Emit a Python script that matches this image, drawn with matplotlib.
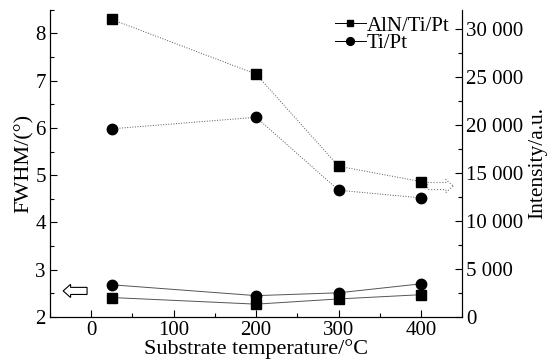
import matplotlib.pyplot as plt
from matplotlib.ticker import MultipleLocator, FuncFormatter
from matplotlib.patches import FancyArrow

plt.rcParams['font.family'] = ['Liberation Serif', 'DejaVu Serif']

# --- data ---
temp = [25, 200, 300, 400]
fwhm_aln = [2.41, 2.27, 2.38, 2.47]
fwhm_tipt = [2.68, 2.45, 2.51, 2.70]
int_aln = [31000, 25300, 15700, 14100]
int_tipt = [19600, 20800, 13200, 12400]

fig = plt.figure(figsize=(5.49, 3.63), dpi=100)
ax = fig.add_axes([0.091, 0.127, 0.751, 0.846])
ax2 = ax.twinx()

line_kw = dict(color='#555555', lw=0.7, mfc='black', mec='black')
ax.plot(temp, fwhm_aln, '-s', ms=6.5, label='AlN/Ti/Pt', **line_kw)
ax.plot(temp, fwhm_tipt, '-o', ms=7.5, label='Ti/Pt', **line_kw)
ax2.plot(temp, int_aln, ':s', ms=6.5, **line_kw)
ax2.plot(temp, int_tipt, ':o', ms=7.5, **line_kw)

ax.set_xlim(-50, 450)
ax.set_ylim(2, 8.5)
ax2.set_ylim(0, 32000)

ax.xaxis.set_major_locator(MultipleLocator(100))
ax.xaxis.set_minor_locator(MultipleLocator(50))
ax.yaxis.set_major_locator(MultipleLocator(1))
ax.yaxis.set_minor_locator(MultipleLocator(0.5))
ax2.yaxis.set_major_locator(MultipleLocator(5000))
ax2.yaxis.set_minor_locator(MultipleLocator(2500))
ax2.yaxis.set_major_formatter(FuncFormatter(lambda v, p: f"{int(v):,}".replace(',', ' ')))

for a in (ax, ax2):
    a.spines['top'].set_visible(False)
    a.tick_params(which='both', direction='in', labelsize=15, width=0.8)
    a.tick_params(which='major', length=5, pad=3)
    a.tick_params(which='minor', length=3)
ax.tick_params(axis='y', which='both', right=False)

ax.set_xlabel('Substrate temperature/°C', fontsize=16, labelpad=-1)
ax.set_ylabel('FWHM/(°)', fontsize=16, labelpad=1)
ax2.set_ylabel('Intensity/a.u.', fontsize=15.5, labelpad=3.5)

# hollow arrows pointing at the axis each pair belongs to
ax.add_patch(FancyArrow(-5, 2.55, -29, 0, width=0.15, head_width=0.28, head_length=9,
                        length_includes_head=True, fc='white', ec='black', lw=0.8))
ax.add_patch(FancyArrow(408, 4.77, 31, 0, width=0.15, head_width=0.28, head_length=9,
                        length_includes_head=True, fc='white', ec='#777777', lw=0.8, ls=':'))

leg = ax.legend(loc='upper right', bbox_to_anchor=(1.0, 1.02), frameon=False, fontsize=15,
                handlelength=1.5, handletextpad=0.05, labelspacing=-0.1, borderaxespad=0.2,
                markerscale=0.75)
for h in leg.legend_handles:
    h.set_color('black')

fig.savefig('out.png', dpi=100)
